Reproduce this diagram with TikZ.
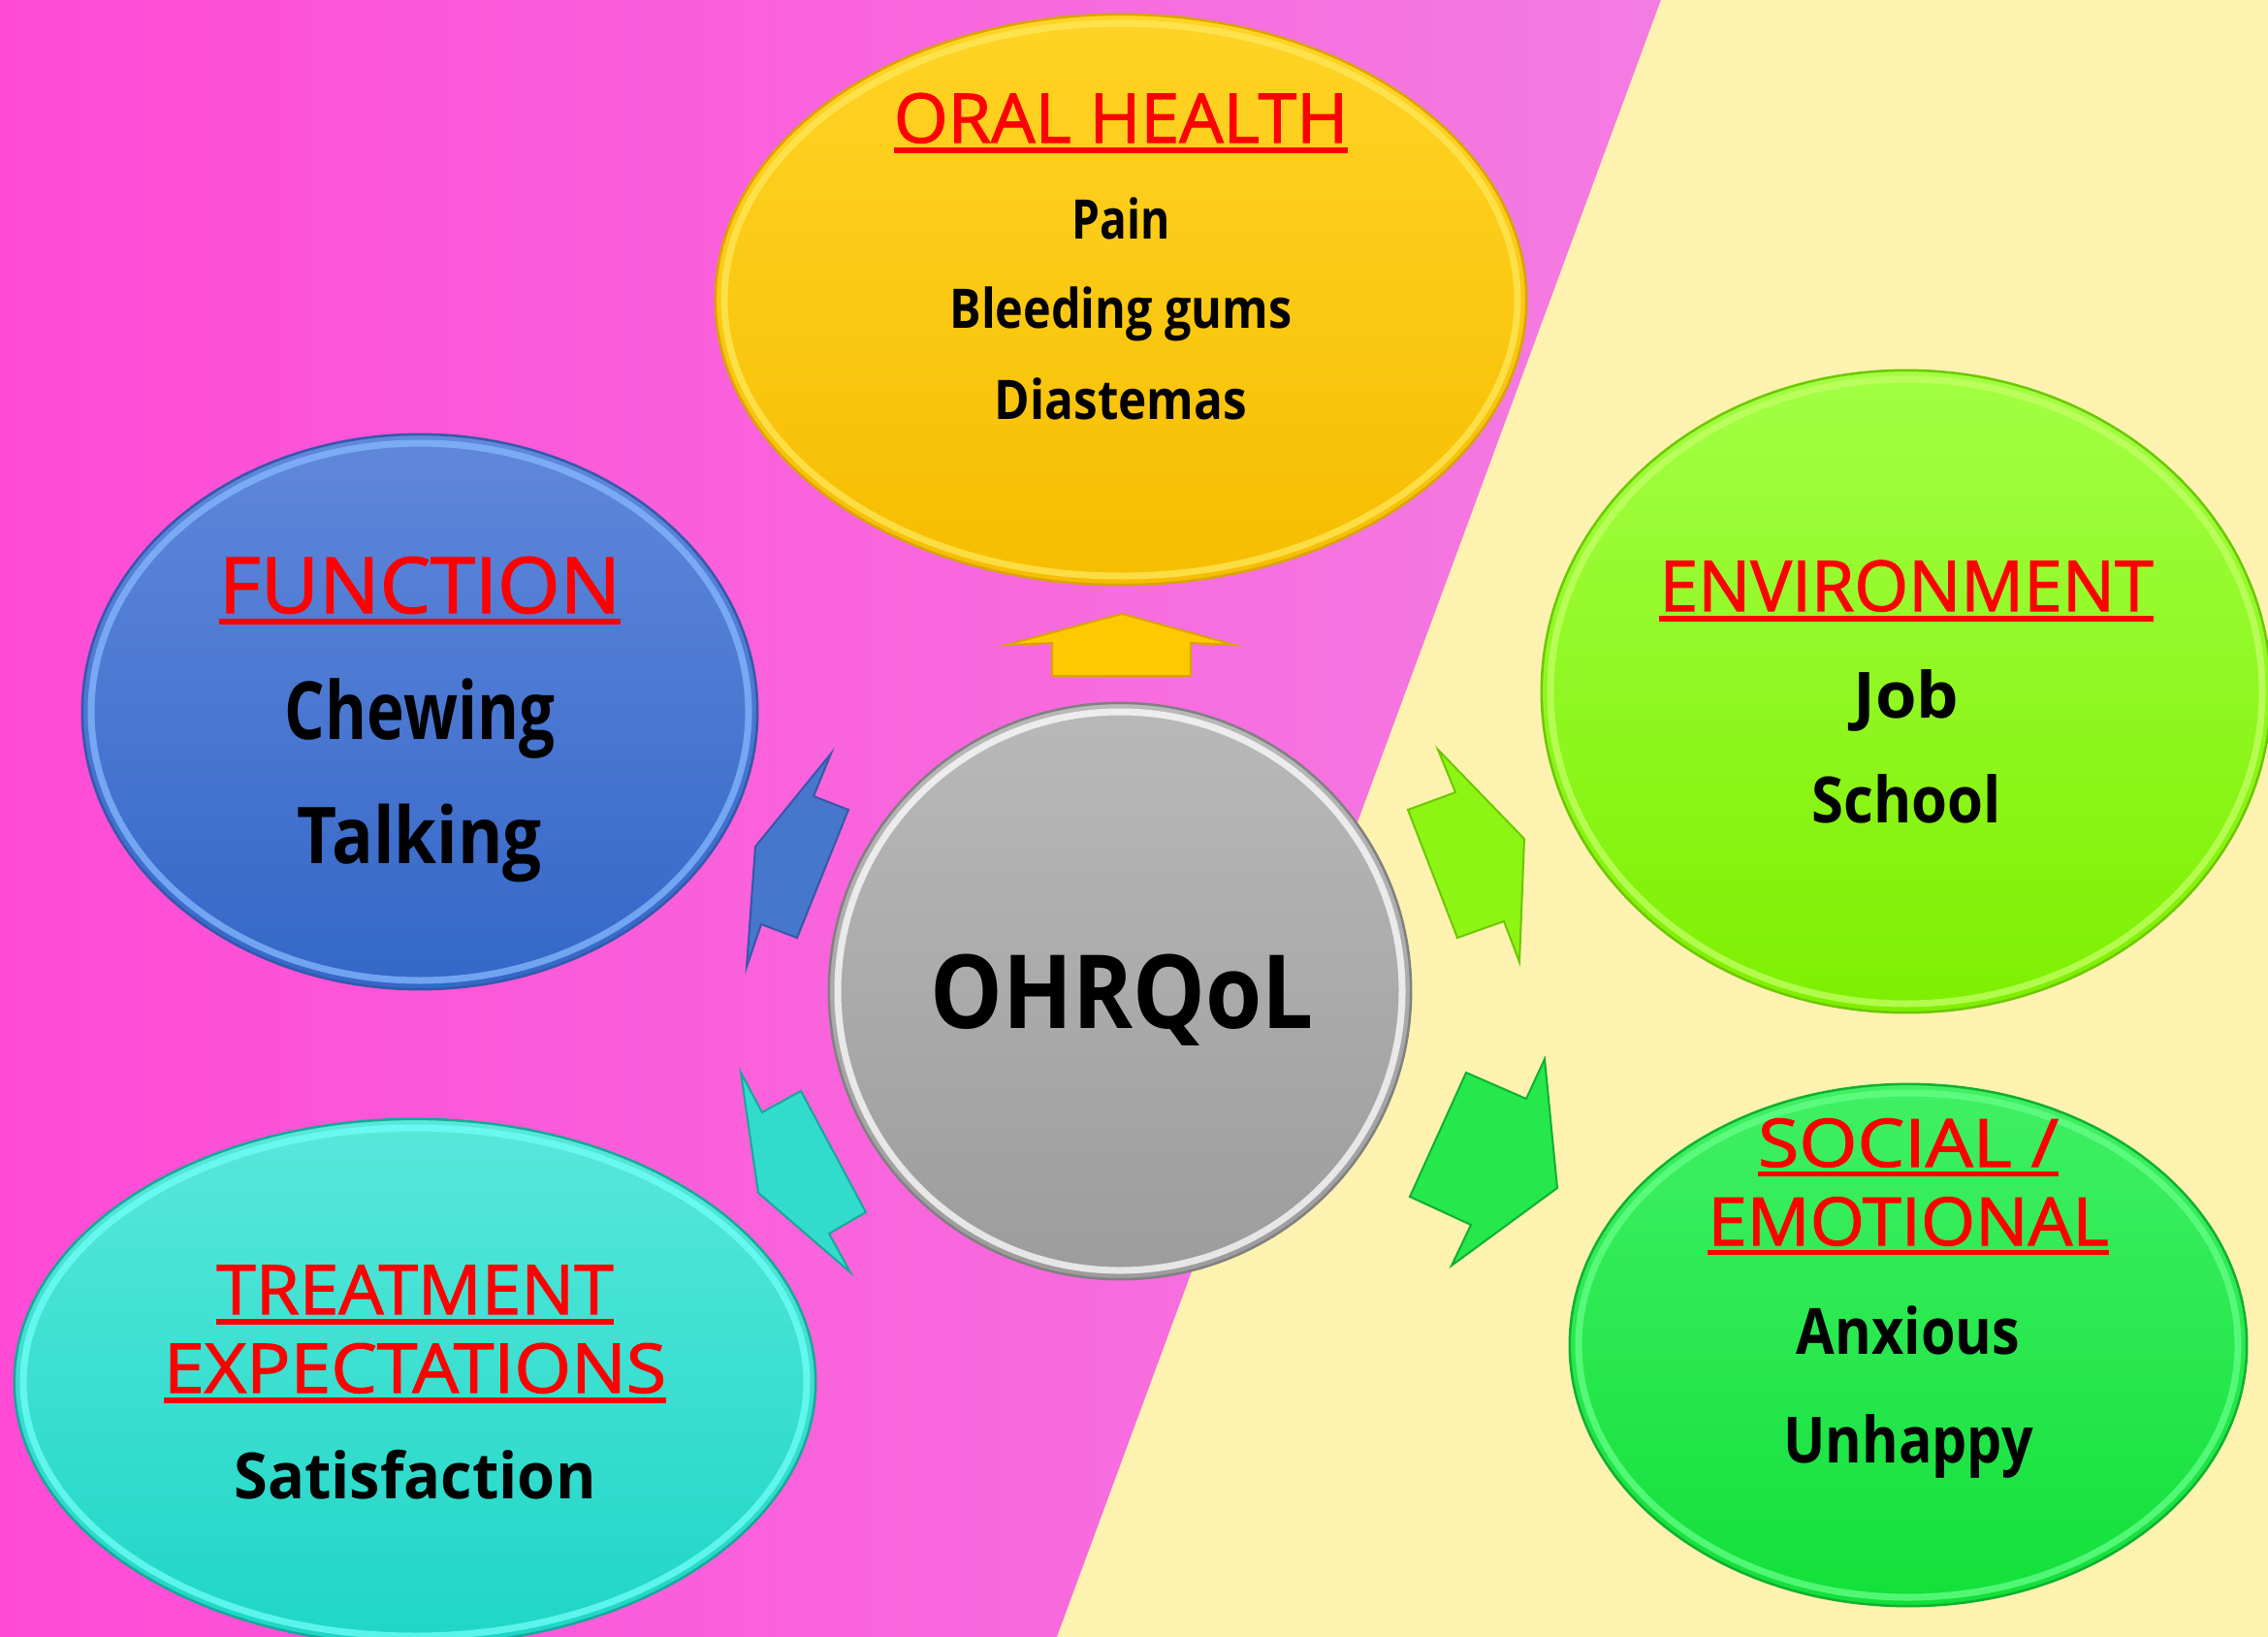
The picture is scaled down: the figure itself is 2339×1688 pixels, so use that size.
\documentclass[tikz,border=0pt]{standalone}
\usepackage{fontspec}
\setmainfont{Open Sans}
\newfontfamily\ttlfont{Open Sans}[FakeBold=1.6]
\usepackage{graphicx}
\usetikzlibrary{shapes.geometric}

\definecolor{pinkL}{HTML}{FF4AD6}
\definecolor{pinkR}{HTML}{F37DE2}
\definecolor{cream}{HTML}{FDF2B0}
\definecolor{tred}{HTML}{FF0000}
% yellow
\definecolor{yT}{HTML}{FFD426}
\definecolor{yB}{HTML}{F6BD00}
\definecolor{yE}{HTML}{D9A400}
\definecolor{yR}{HTML}{FFE85A}
\definecolor{yA}{HTML}{FFC800}
% blue
\definecolor{bT}{HTML}{6088DA}
\definecolor{bB}{HTML}{3467C8}
\definecolor{bE}{HTML}{3558A8}
\definecolor{bR}{HTML}{86B8FF}
\definecolor{bA}{HTML}{4677CC}
% light green
\definecolor{lT}{HTML}{A2FF44}
\definecolor{lB}{HTML}{7EEF00}
\definecolor{lE}{HTML}{6CC800}
\definecolor{lR}{HTML}{C4FF66}
\definecolor{lA}{HTML}{8CF514}
% green
\definecolor{gT}{HTML}{40F064}
\definecolor{gB}{HTML}{12E03A}
\definecolor{gE}{HTML}{10B030}
\definecolor{gR}{HTML}{66FF88}
\definecolor{gA}{HTML}{24E84C}
% cyan
\definecolor{cT}{HTML}{58E8DA}
\definecolor{cB}{HTML}{1ED6C6}
\definecolor{cE}{HTML}{17A898}
\definecolor{cR}{HTML}{70FFF8}
\definecolor{cA}{HTML}{32DCCC}
% gray
\definecolor{kT}{HTML}{B9B9B9}
\definecolor{kB}{HTML}{9C9C9C}
\definecolor{kE}{HTML}{808080}
\definecolor{kR}{HTML}{FFFFFF}

\newcommand\redul[1]{\setbox0=\hbox{#1}\rlap{\rule[-0.15em]{\wd0}{0.08em}}\box0}
\newcommand\tx[2]{\resizebox{#1}{\height}{#2}}

\tikzset{
  bub/.style={ellipse, inner sep=0pt, line width=0.025cm},
  rim/.style={line width=0.07cm, draw opacity=0.75},
  lbl/.style={anchor=base, inner sep=0pt},
  ttl/.style={lbl, text=tred},
  bodytxt/.style={lbl, text=black},
  blk/.style={line width=0.02cm, line join=miter},
}

\begin{document}
\begin{tikzpicture}[x=0.01cm,y=-0.01cm]
\useasboundingbox (0,0) rectangle (2339,1688);
% background
\fill[left color=pinkL, right color=pinkR] (0,0) rectangle (1730,1688);
\fill[cream] (1713,0) -- (2339,0) -- (2339,1688) -- (1090,1688) -- cycle;

% bubbles
\node[bub, minimum width=8.36cm, minimum height=5.88cm, top color=yT, bottom color=yB, draw=yE] (oral) at (1156,309) {};
\draw[rim, yR] (oral.center) ellipse (409 and 285);

\node[bub, minimum width=6.96cm, minimum height=5.72cm, top color=bT, bottom color=bB, draw=bE] (func) at (433,734) {};
\draw[rim, bR] (func.center) ellipse (339 and 277);

\node[bub, minimum width=7.52cm, minimum height=6.62cm, top color=lT, bottom color=lB, draw=lE] (env) at (1966,713) {};
\draw[rim, lR] (env.center) ellipse (367 and 322);

\node[bub, minimum width=6.98cm, minimum height=5.38cm, top color=gT, bottom color=gB, draw=gE] (soc) at (1968,1387) {};
\draw[rim, gR] (soc.center) ellipse (340 and 260);

\node[bub, minimum width=8.26cm, minimum height=5.42cm, top color=cT, bottom color=cB, draw=cE] (treat) at (428,1425) {};
\draw[rim, cR] (treat.center) ellipse (404 and 262);

\node[bub, minimum width=6.0cm, minimum height=5.94cm, top color=kT, bottom color=kB, draw=kE] (core) at (1155,1022) {};
\draw[rim, kR] (core.center) ellipse (291 and 288);

% block arrows
\filldraw[blk, fill=yA, draw=yE] (1085,697) -- (1085,663) -- (1038,665) -- (1157,633) -- (1273,665) -- (1228,663) -- (1228,697) -- cycle;
\filldraw[blk, fill=bA, draw=bE] (857,777) -- (839,821) -- (875,835) -- (822,967) -- (785,953) -- (770,997) -- (779,873) -- cycle;
\filldraw[blk, fill=lA, draw=lE] (1483,773) -- (1501,817) -- (1452,835) -- (1503,967) -- (1551,950) -- (1567,992) -- (1572,865) -- cycle;
\filldraw[blk, fill=cA, draw=cE] (764,1106) -- (786,1147) -- (826,1125) -- (893,1250) -- (855,1272) -- (877,1312) -- (782,1230) -- cycle;
\filldraw[blk, fill=gA, draw=gE] (1593,1092) -- (1606,1225) -- (1497,1305) -- (1517,1263) -- (1454,1234) -- (1512,1106) -- (1574,1133) -- cycle;

% texts
\node[ttl, font={\ttlfont\fontsize{20pt}{24pt}\selectfont}] (tOral) at (1156,147) {\tx{4.68cm}{\redul{ORAL HEALTH}}};
\node[bodytxt, font={\fontsize{16pt}{19pt}\selectfont\bfseries}] (tPain) at (1156,247) {\tx{1.01cm}{Pain}};
\node[bodytxt, font={\fontsize{16pt}{19pt}\selectfont\bfseries}] (tBleed) at (1156,338) {\tx{3.53cm}{Bleeding gums}};
\node[bodytxt, font={\fontsize{16pt}{19pt}\selectfont\bfseries}] (tDia) at (1156,432) {\tx{2.60cm}{Diastemas}};

\node[ttl, font={\ttlfont\fontsize{22.7pt}{27pt}\selectfont}] (tFunc) at (433,632) {\tx{4.14cm}{\redul{FUNCTION}}};
\node[bodytxt, font={\fontsize{23.5pt}{28pt}\selectfont\bfseries}] (tChew) at (433,762) {\tx{2.78cm}{Chewing}};
\node[bodytxt, font={\fontsize{23pt}{28pt}\selectfont\bfseries}] (tTalk) at (433,890) {\tx{2.52cm}{Talking}};

\node[ttl, font={\ttlfont\fontsize{20.5pt}{24pt}\selectfont}] (tEnv) at (1966,630) {\tx{5.09cm}{\redul{ENVIRONMENT}}};
\node[bodytxt, font={\fontsize{18.7pt}{22pt}\selectfont\bfseries}] (tJob) at (1966,740) {\tx{1.09cm}{Job}};
\node[bodytxt, font={\fontsize{18.7pt}{22pt}\selectfont\bfseries}] (tSchool) at (1966,848) {\tx{1.95cm}{School}};

\node[ttl, font={\ttlfont\fontsize{19.5pt}{23pt}\selectfont}] (tSoc) at (1968,1203) {\tx{3.10cm}{\redul{SOCIAL /}}};
\node[ttl, font={\ttlfont\fontsize{19.5pt}{23pt}\selectfont}] (tEmo) at (1968,1284) {\tx{4.13cm}{\redul{EMOTIONAL}}};
\node[bodytxt, font={\fontsize{18.7pt}{22pt}\selectfont\bfseries}] (tAnx) at (1968,1396) {\tx{2.30cm}{Anxious}};
\node[bodytxt, font={\fontsize{18.7pt}{22pt}\selectfont\bfseries}] (tUnh) at (1968,1508) {\tx{2.57cm}{Unhappy}};

\node[ttl, font={\ttlfont\fontsize{20pt}{24pt}\selectfont}] (tTreat) at (428,1355) {\tx{4.09cm}{\redul{TREATMENT}}};
\node[ttl, font={\ttlfont\fontsize{20pt}{24pt}\selectfont}] (tExp) at (428,1436) {\tx{5.18cm}{\redul{EXPECTATIONS}}};
\node[bodytxt, font={\fontsize{18.7pt}{22pt}\selectfont\bfseries}] (tSat) at (428,1545) {\tx{3.73cm}{Satisfaction}};

\node[bodytxt, font={\fontsize{30pt}{36pt}\selectfont\bfseries}] (tCore) at (1157,1060) {\tx{3.95cm}{OHRQoL}};
\end{tikzpicture}
\end{document}
